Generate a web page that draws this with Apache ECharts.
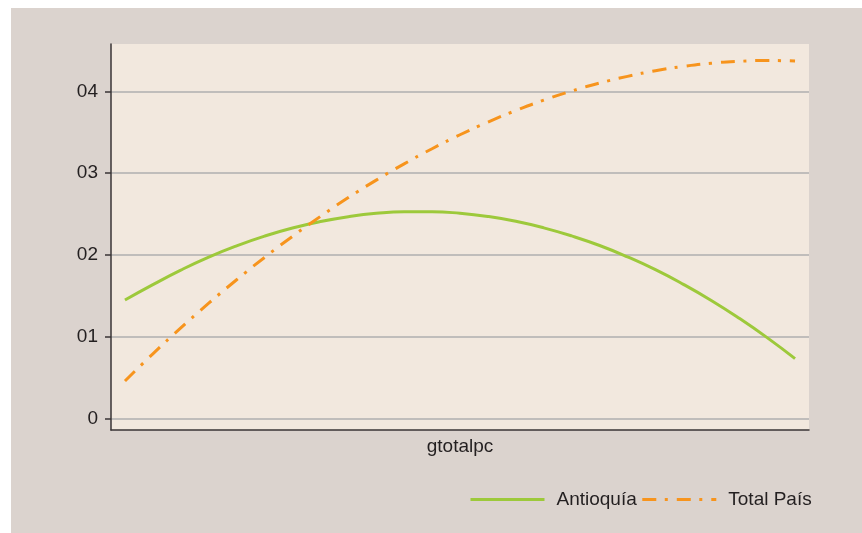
<!DOCTYPE html>
<html>
<head>
<meta charset="utf-8">
<script src="https://cdn.jsdelivr.net/npm/echarts@6/dist/echarts.min.js"></script>
<style>
  html, body { margin: 0; padding: 0; background: #ffffff; }
  #frame { position: absolute; left: 11px; top: 8px; width: 851px; height: 525px; background: #dbd3ce; }
  #chart { position: absolute; left: 0; top: 0; width: 862px; height: 533px; }
</style>
</head>
<body>
<div id="frame"></div>
<div id="chart"></div>
<script>
// x positions (relative units along gtotalpc, 0..100)
const xs = [2, 6, 10, 14, 18, 22, 26, 30, 34, 38, 42, 46, 50, 54, 58, 62, 66, 70, 74, 78, 82, 86, 90, 94, 98];
const antioquia = [1.447, 1.635, 1.813, 1.972, 2.110, 2.229, 2.328, 2.407, 2.467, 2.508, 2.527, 2.527, 2.508, 2.469, 2.410, 2.330, 2.231, 2.114, 1.975, 1.818, 1.639, 1.442, 1.224, 0.987, 0.730];
const totalPais = [0.457, 0.789, 1.106, 1.408, 1.695, 1.968, 2.226, 2.470, 2.700, 2.914, 3.113, 3.298, 3.469, 3.624, 3.765, 3.892, 4.004, 4.101, 4.183, 4.252, 4.305, 4.344, 4.367, 4.377, 4.372];
const yTickValues = [0, 1, 2, 3, 4];
const yTickLabels = ['0', '01', '02', '03', '04'];
const seriesNames = ['Antioquía', 'Total País'];
const xAxisName = 'gtotalpc';

const font = '"Liberation Sans", Arial, sans-serif';
const txt = '#231f20';

const chart = echarts.init(document.getElementById('chart'), null, { renderer: 'canvas' });
chart.setOption({
  backgroundColor: 'transparent',
  animation: false,
  grid: {
    left: 111, right: 53, top: 44, bottom: 103,
    show: true, backgroundColor: '#f2e8de', borderWidth: 0
  },
  legend: {
    left: 469, top: 490, padding: 0,
    itemWidth: 74, itemHeight: 14, itemGap: 4,
    itemStyle: { opacity: 0 },
    lineStyle: { width: 3 },
    textStyle: { fontFamily: font, fontSize: 19, color: txt, padding: [0, 0, 0, 7] },
    data: seriesNames
  },
  xAxis: {
    type: 'value', min: 0, max: 100,
    name: xAxisName, nameLocation: 'middle', nameGap: 7,
    nameTextStyle: { fontFamily: font, fontSize: 19, color: txt },
    axisLine: { show: true, onZero: false, lineStyle: { color: '#3a3536', width: 1.5 } },
    axisTick: { show: false },
    axisLabel: { show: false },
    splitLine: { show: false }
  },
  yAxis: {
    type: 'value', min: -0.143, max: 4.579,
    axisLine: { show: true, lineStyle: { color: '#3a3536', width: 1.5 } },
    axisTick: { show: true, length: 6, customValues: yTickValues, lineStyle: { color: '#3a3536', width: 1.5 } },
    axisLabel: {
      show: true, margin: 13, customValues: yTickValues,
      fontFamily: font, fontSize: 19, color: txt,
      formatter: v => yTickLabels[yTickValues.indexOf(Math.round(v))]
    },
    splitLine: { show: true, lineStyle: { color: '#c0bdbb', width: 2 } }
  },
  series: [
    {
      name: seriesNames[0], type: 'line', smooth: true, symbol: 'none',
      data: xs.map((x, i) => [x, antioquia[i]]),
      lineStyle: { color: '#9dc93b', width: 3 },
      itemStyle: { color: '#9dc93b' },
      z: 3
    },
    {
      name: seriesNames[1], type: 'line', smooth: true, symbol: 'none',
      data: xs.map((x, i) => [x, totalPais[i]]),
      lineStyle: { color: '#f7941d', width: 3, type: [14, 8.5, 3, 9], cap: 'butt' },
      itemStyle: { color: '#f7941d' },
      z: 4
    }
  ]
});
</script>
</body>
</html>
